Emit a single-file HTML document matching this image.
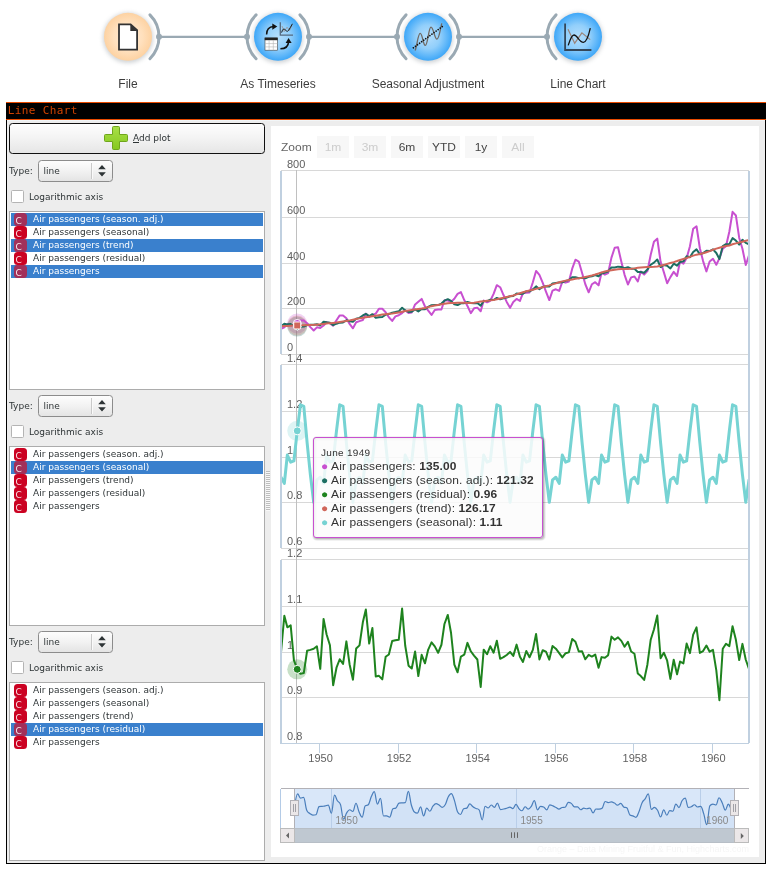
<!DOCTYPE html>
<html><head><meta charset="utf-8"><title>Line Chart</title>
<style>
html,body{margin:0;padding:0;background:#fff;}
body{width:774px;height:872px;position:relative;overflow:hidden;font-family:"DejaVu Sans","Liberation Sans",sans-serif;font-size:9px;color:#2e3436;}
#wf,#ch{position:absolute;left:0;top:0;}
#ch text{font-family:"Liberation Sans",sans-serif;}
#win{position:absolute;left:6px;top:102px;width:760px;height:762px;background:#000;}
#tt{position:absolute;left:0;top:0;width:760px;height:18px;background:#000;border-top:1px solid #e84a00;border-bottom:1px solid #e84a00;box-sizing:border-box;height:18px;}
#tt span{position:absolute;left:1.8px;top:1px;letter-spacing:0.38px;font-family:"DejaVu Sans Mono","Liberation Mono",monospace;font-size:11px;line-height:13px;color:#d04200;white-space:pre;}
#body{position:absolute;left:7px;top:120px;width:758px;height:743px;background:#ededed;}
#white{position:absolute;left:271px;top:126px;width:488px;height:731px;background:#fff;}
.btn{position:absolute;left:9px;top:123px;width:254px;height:29px;border:1px solid #111;border-radius:3.5px;background:linear-gradient(#fefefe,#f3f3f3 50%,#e6e6e6);}
.btn .t{position:absolute;left:123px;top:8px;line-height:12px;white-space:pre;}
.lbl{position:absolute;line-height:12px;white-space:pre;}
.combo{position:absolute;width:73px;height:20px;border:1px solid #8c8c8c;border-radius:3.5px;background:linear-gradient(#fdfdfd,#f2f2f2 50%,#e4e4e4);}
.combo .ct{position:absolute;left:4.5px;top:4px;line-height:12px;}
.combo .sep{position:absolute;left:52px;top:2px;width:1px;height:16px;background:#c9c9c9;border-right:1px solid #fafafa;}
.combo .arr{position:absolute;left:58px;top:4px;}
.cb{position:absolute;width:11px;height:11px;border:1px solid #b4b4b4;border-radius:1.5px;background:#fff;}
.list{position:absolute;width:254px;border:1px solid #acacac;background:#fff;box-sizing:content-box;}
.list .row{position:relative;margin:1px 1px 0 1px;height:13px;}
.list .row + .row{margin-top:0;}
.row .ic{position:absolute;left:3px;top:0;width:13px;height:13px;border-radius:3.5px;background:#cb0222;color:#fff;font-size:8px;line-height:13px;text-indent:0;overflow:hidden;}
.row .ic b{position:absolute;left:1.4px;top:3px;font-weight:normal;line-height:10px;font-size:9px;text-indent:0;color:rgba(255,255,255,0.88);}
.row .tx{position:absolute;left:22px;top:0px;line-height:12px;white-space:pre;}
.row.sel{background:#3a80cd;color:#fff;}
.row.sel .ic{background:#a2305a;color:#e8dce6;}
.split{position:absolute;left:266px;top:471px;width:4px;height:40px;background:repeating-linear-gradient(#bdbdbd 0,#bdbdbd 1px,#f8f8f8 1px,#f8f8f8 2px);}
#root{position:absolute;left:0;top:0;width:774px;height:872px;will-change:transform;}
</style></head><body><div id="root">
<svg id="wf" width="774" height="100" viewBox="0 0 774 100">
<defs>
<radialGradient id="gO" cx="50%" cy="50%" r="50%"><stop offset="0" stop-color="#ffebd6"/><stop offset="0.6" stop-color="#ffe0bd"/><stop offset="1" stop-color="#fdd2a2"/></radialGradient>
<radialGradient id="gB" cx="50%" cy="50%" r="50%"><stop offset="0" stop-color="#b4defc"/><stop offset="0.5" stop-color="#92cffb"/><stop offset="1" stop-color="#3ea7f8"/></radialGradient>
<filter id="sh" x="-20%" y="-20%" width="140%" height="140%"><feGaussianBlur stdDeviation="1.9"/></filter>
<filter id="tsh" x="-10%" y="-10%" width="120%" height="130%"><feGaussianBlur stdDeviation="1.2"/></filter>
<linearGradient id="gP" x1="0" y1="0" x2="0" y2="1"><stop offset="0" stop-color="#a8e048"/><stop offset="1" stop-color="#86c81e"/></linearGradient>
</defs>
<line x1="159.0" y1="36.8" x2="247.0" y2="36.8" stroke="#9aa9b3" stroke-width="2.2"/>
<line x1="309.0" y1="36.8" x2="397.0" y2="36.8" stroke="#9aa9b3" stroke-width="2.2"/>
<line x1="459.0" y1="36.8" x2="547.0" y2="36.8" stroke="#9aa9b3" stroke-width="2.2"/>
<circle cx="128" cy="37.8" r="25" fill="#808890" opacity="0.38" filter="url(#sh)"/>
<circle cx="128" cy="36.8" r="24" fill="url(#gO)"/>
<path d="M149.92 14.88 A31 31 0 0 1 149.92 58.72" fill="none" stroke="#9aa9b3" stroke-width="3" stroke-linecap="round"/>
<circle cx="159.0" cy="36.8" r="3" fill="#9aa9b3"/>
<text x="128" y="88" text-anchor="middle" font-family="Liberation Sans, sans-serif" font-size="12" fill="#3c3c3c">File</text>
<circle cx="278" cy="37.8" r="25" fill="#808890" opacity="0.38" filter="url(#sh)"/>
<circle cx="278" cy="36.8" r="24" fill="url(#gB)"/>
<path d="M256.08 14.88 A31 31 0 0 0 256.08 58.72" fill="none" stroke="#9aa9b3" stroke-width="3" stroke-linecap="round"/>
<circle cx="247.0" cy="36.8" r="3" fill="#9aa9b3"/>
<path d="M299.92 14.88 A31 31 0 0 1 299.92 58.72" fill="none" stroke="#9aa9b3" stroke-width="3" stroke-linecap="round"/>
<circle cx="309.0" cy="36.8" r="3" fill="#9aa9b3"/>
<text x="278" y="88" text-anchor="middle" font-family="Liberation Sans, sans-serif" font-size="12" fill="#3c3c3c">As Timeseries</text>
<circle cx="428" cy="37.8" r="25" fill="#808890" opacity="0.38" filter="url(#sh)"/>
<circle cx="428" cy="36.8" r="24" fill="url(#gB)"/>
<path d="M406.08 14.88 A31 31 0 0 0 406.08 58.72" fill="none" stroke="#9aa9b3" stroke-width="3" stroke-linecap="round"/>
<circle cx="397.0" cy="36.8" r="3" fill="#9aa9b3"/>
<path d="M449.92 14.88 A31 31 0 0 1 449.92 58.72" fill="none" stroke="#9aa9b3" stroke-width="3" stroke-linecap="round"/>
<circle cx="459.0" cy="36.8" r="3" fill="#9aa9b3"/>
<text x="428" y="88" text-anchor="middle" font-family="Liberation Sans, sans-serif" font-size="12" fill="#3c3c3c">Seasonal Adjustment</text>
<circle cx="578" cy="37.8" r="25" fill="#808890" opacity="0.38" filter="url(#sh)"/>
<circle cx="578" cy="36.8" r="24" fill="url(#gB)"/>
<path d="M556.08 14.88 A31 31 0 0 0 556.08 58.72" fill="none" stroke="#9aa9b3" stroke-width="3" stroke-linecap="round"/>
<circle cx="547.0" cy="36.8" r="3" fill="#9aa9b3"/>
<text x="578" y="88" text-anchor="middle" font-family="Liberation Sans, sans-serif" font-size="12" fill="#3c3c3c">Line Chart</text>
<path d="M119 24.3 H130.6 L137.1 30.2 V49.6 H119 Z" fill="#fff" stroke="#333" stroke-width="1.8" stroke-linejoin="miter"/>
<path d="M130.3 24 L137.4 30.9 H130.3 Z" fill="#333"/>
<g>
<rect x="265" y="38" width="12.4" height="12.2" fill="#fff" stroke="#444" stroke-width="0.6"/>
<rect x="264.7" y="37.6" width="13" height="2.6" fill="#222"/>
<path d="M265 43.6 H277.4 M265 46.9 H277.4 M269.1 40 V50.2 M273.3 40 V50.2" stroke="#b4b4b4" stroke-width="0.6" fill="none"/>
<path d="M266.6 34.6 C266.6 29.5 269.5 26.8 273.6 26.6" fill="none" stroke="#111" stroke-width="1.5"/>
<path d="M272.3 23.6 L277.3 26.6 L272.3 29.8 Z" fill="#111"/>
<path d="M280.3 22.2 V35.1 H293" fill="none" stroke="#546a80" stroke-width="1.3"/>
<path d="M282 26 L284.2 31.6 L287 27.2 L289.6 30.4 L292.2 24.6" fill="none" stroke="#9a8a84" stroke-width="0.7"/>
<path d="M281.6 32.6 C284 24 286 34 288.5 30.5 C290 28.5 291 26 292.4 23.8" fill="none" stroke="#1a1a1a" stroke-width="1"/>
<path d="M280.4 48.8 C285.5 48.8 288.4 46 288.6 41.6" fill="none" stroke="#111" stroke-width="1.5"/>
<path d="M285.6 43 L288.6 37.9 L291.6 43 Z" fill="#111"/>
</g>
<path d="M415.1 50.6 C417 46 418 33.4 420.2 33.4 C422.6 33.4 423 45.4 425.3 45.4 C427.8 45.4 428.6 27.2 431 27.2 C433.4 27.2 434.6 39.2 437 39.2 C439.2 39.2 440.4 28 441.8 23.4" fill="none" stroke="#6f6964" stroke-width="1.3"/>
<line x1="413.4" y1="47.8" x2="443.4" y2="25.7" stroke="#111" stroke-width="1.7" stroke-linecap="round" stroke-dasharray="0.01 2.55"/>
<path d="M565.1 23.6 V50 H591.4" fill="none" stroke="#34475a" stroke-width="1.8"/>
<path d="M568 29.3 L574.7 43.2 L581.9 32.9 L590.2 39.6" fill="none" stroke="#9a857c" stroke-width="1.2"/>
<path d="M568.2 45.4 C570.5 38 572 35 574 35 C577.5 35 579 42.4 583.4 42.4 C587 42.4 589 34 590.3 28.2" fill="none" stroke="#111" stroke-width="1.3"/>
</svg>
<div id="win"><div id="tt"><span>Line Chart</span></div></div>
<div id="body"></div><div style="position:absolute;left:7px;top:120px;width:758px;height:1px;background:#f2f6f8"></div>
<div id="white"></div>
<div class="btn"><svg style="position:absolute;left:94px;top:2px" width="24" height="24" viewBox="0 0 24 24"><path d="M9.5 0.5 H14.5 a1 1 0 0 1 1 1 V8.5 H22.5 a1 1 0 0 1 1 1 V14.5 a1 1 0 0 1 -1 1 H15.5 V22.5 a1 1 0 0 1 -1 1 H9.5 a1 1 0 0 1 -1 -1 V15.5 H1.5 a1 1 0 0 1 -1 -1 V9.5 a1 1 0 0 1 1 -1 H8.5 V1.5 a1 1 0 0 1 1 -1 Z" fill="url(#gP)" stroke="#6fa51c" stroke-width="1"/></svg><span class="t"><u>A</u>dd plot</span></div>
<div class="lbl" style="left:9px;top:165px">Type:</div>
<div class="combo" style="left:38px;top:160px"><span class="ct">line</span><span class="sep"></span><svg class="arr" width="10" height="12" viewBox="0 0 10 12"><path d="M1.2 4.3 L5 0 L8.8 4.3 Z M1.2 7.3 L5 11.6 L8.8 7.3 Z" fill="#2e3436"/></svg></div>
<div class="cb" style="left:11px;top:190px"></div>
<div class="lbl" style="left:29px;top:191px">Logarithmic axis</div>
<div class="list" style="left:9px;top:211px;height:177px">
<div class="row sel"><span class="ic"><b>C</b></span><span class="tx">Air passengers (season. adj.)</span></div>
<div class="row"><span class="ic"><b>C</b></span><span class="tx">Air passengers (seasonal)</span></div>
<div class="row sel"><span class="ic"><b>C</b></span><span class="tx">Air passengers (trend)</span></div>
<div class="row"><span class="ic"><b>C</b></span><span class="tx">Air passengers (residual)</span></div>
<div class="row sel"><span class="ic"><b>C</b></span><span class="tx">Air passengers</span></div>
</div>
<div class="lbl" style="left:9px;top:400px">Type:</div>
<div class="combo" style="left:38px;top:395px"><span class="ct">line</span><span class="sep"></span><svg class="arr" width="10" height="12" viewBox="0 0 10 12"><path d="M1.2 4.3 L5 0 L8.8 4.3 Z M1.2 7.3 L5 11.6 L8.8 7.3 Z" fill="#2e3436"/></svg></div>
<div class="cb" style="left:11px;top:425px"></div>
<div class="lbl" style="left:29px;top:426px">Logarithmic axis</div>
<div class="list" style="left:9px;top:446px;height:178px">
<div class="row"><span class="ic"><b>C</b></span><span class="tx">Air passengers (season. adj.)</span></div>
<div class="row sel"><span class="ic"><b>C</b></span><span class="tx">Air passengers (seasonal)</span></div>
<div class="row"><span class="ic"><b>C</b></span><span class="tx">Air passengers (trend)</span></div>
<div class="row"><span class="ic"><b>C</b></span><span class="tx">Air passengers (residual)</span></div>
<div class="row"><span class="ic"><b>C</b></span><span class="tx">Air passengers</span></div>
</div>
<div class="lbl" style="left:9px;top:636px">Type:</div>
<div class="combo" style="left:38px;top:631px"><span class="ct">line</span><span class="sep"></span><svg class="arr" width="10" height="12" viewBox="0 0 10 12"><path d="M1.2 4.3 L5 0 L8.8 4.3 Z M1.2 7.3 L5 11.6 L8.8 7.3 Z" fill="#2e3436"/></svg></div>
<div class="cb" style="left:11px;top:661px"></div>
<div class="lbl" style="left:29px;top:662px">Logarithmic axis</div>
<div class="list" style="left:9px;top:682px;height:177px">
<div class="row"><span class="ic"><b>C</b></span><span class="tx">Air passengers (season. adj.)</span></div>
<div class="row"><span class="ic"><b>C</b></span><span class="tx">Air passengers (seasonal)</span></div>
<div class="row"><span class="ic"><b>C</b></span><span class="tx">Air passengers (trend)</span></div>
<div class="row sel"><span class="ic"><b>C</b></span><span class="tx">Air passengers (residual)</span></div>
<div class="row"><span class="ic"><b>C</b></span><span class="tx">Air passengers</span></div>
</div>
<div class="split"></div>
<svg id="ch" width="774" height="872" viewBox="0 0 774 872">
<line x1="281" x2="749" y1="170.5" y2="170.5" stroke="#d8d8d8" stroke-width="1"/>
<line x1="281" x2="749" y1="217.5" y2="217.5" stroke="#d8d8d8" stroke-width="1"/>
<line x1="281" x2="749" y1="263.5" y2="263.5" stroke="#d8d8d8" stroke-width="1"/>
<line x1="281" x2="749" y1="308.5" y2="308.5" stroke="#d8d8d8" stroke-width="1"/>
<line x1="281" x2="749" y1="354.5" y2="354.5" stroke="#d8d8d8" stroke-width="1"/>
<line x1="281" x2="749" y1="364.5" y2="364.5" stroke="#d8d8d8" stroke-width="1"/>
<line x1="281" x2="749" y1="411.5" y2="411.5" stroke="#d8d8d8" stroke-width="1"/>
<line x1="281" x2="749" y1="457.5" y2="457.5" stroke="#d8d8d8" stroke-width="1"/>
<line x1="281" x2="749" y1="502.5" y2="502.5" stroke="#d8d8d8" stroke-width="1"/>
<line x1="281" x2="749" y1="548.5" y2="548.5" stroke="#d8d8d8" stroke-width="1"/>
<line x1="281" x2="749" y1="559.5" y2="559.5" stroke="#d8d8d8" stroke-width="1"/>
<line x1="281" x2="749" y1="606.5" y2="606.5" stroke="#d8d8d8" stroke-width="1"/>
<line x1="281" x2="749" y1="652.5" y2="652.5" stroke="#d8d8d8" stroke-width="1"/>
<line x1="281" x2="749" y1="697.5" y2="697.5" stroke="#d8d8d8" stroke-width="1"/>
<line x1="296.5" x2="296.5" y1="170" y2="743" stroke="#c0c0c0" stroke-width="1"/>
<text x="287" y="168.0" font-size="11" fill="#606060">800</text>
<text x="287" y="214.0" font-size="11" fill="#606060">600</text>
<text x="287" y="260.0" font-size="11" fill="#606060">400</text>
<text x="287" y="305.0" font-size="11" fill="#606060">200</text>
<text x="287" y="351.0" font-size="11" fill="#606060">0</text>
<text x="287" y="362.0" font-size="11" fill="#606060">1.4</text>
<text x="287" y="408.0" font-size="11" fill="#606060">1.2</text>
<text x="287" y="454.0" font-size="11" fill="#606060">1</text>
<text x="287" y="499.0" font-size="11" fill="#606060">0.8</text>
<text x="287" y="545.0" font-size="11" fill="#606060">0.6</text>
<text x="287" y="557.0" font-size="11" fill="#606060">1.2</text>
<text x="287" y="603.0" font-size="11" fill="#606060">1.1</text>
<text x="287" y="649.0" font-size="11" fill="#606060">1</text>
<text x="287" y="694.0" font-size="11" fill="#606060">0.9</text>
<text x="287" y="740.0" font-size="11" fill="#606060">0.8</text>
<text x="320.6" y="762" text-anchor="middle" font-size="11" fill="#606060">1950</text>
<line x1="319.5" x2="319.5" y1="744" y2="753" stroke="#c0d0e0" stroke-width="1"/>
<text x="399.1" y="762" text-anchor="middle" font-size="11" fill="#606060">1952</text>
<line x1="398.5" x2="398.5" y1="744" y2="753" stroke="#c0d0e0" stroke-width="1"/>
<text x="477.7" y="762" text-anchor="middle" font-size="11" fill="#606060">1954</text>
<line x1="476.5" x2="476.5" y1="744" y2="753" stroke="#c0d0e0" stroke-width="1"/>
<text x="556.2" y="762" text-anchor="middle" font-size="11" fill="#606060">1956</text>
<line x1="555.5" x2="555.5" y1="744" y2="753" stroke="#c0d0e0" stroke-width="1"/>
<text x="634.8" y="762" text-anchor="middle" font-size="11" fill="#606060">1958</text>
<line x1="633.5" x2="633.5" y1="744" y2="753" stroke="#c0d0e0" stroke-width="1"/>
<text x="713.3" y="762" text-anchor="middle" font-size="11" fill="#606060">1960</text>
<line x1="712.5" x2="712.5" y1="744" y2="753" stroke="#c0d0e0" stroke-width="1"/>
<circle cx="297.24" cy="323.45" r="10" fill="#c850d0" fill-opacity="0.25"/>
<circle cx="297.24" cy="326.59" r="10" fill="#1d6e62" fill-opacity="0.25"/>
<circle cx="297.24" cy="325.48" r="10" fill="#d0665a" fill-opacity="0.25"/>
<circle cx="297.24" cy="430.85" r="10" fill="#76d3d3" fill-opacity="0.25"/>
<circle cx="297.24" cy="669.32" r="10" fill="#1e831e" fill-opacity="0.25"/>
<path d="M281.00 328.72 L284.33 327.35 L287.34 324.14 L290.68 324.83 L293.90 326.66 L297.24 323.45 L300.46 320.47 L303.80 320.47 L307.13 323.22 L310.36 327.12 L313.69 330.56 L316.92 327.35 L320.25 328.04 L323.58 325.51 L326.60 322.08 L329.93 323.45 L333.16 325.74 L336.49 320.24 L339.72 315.43 L343.05 315.43 L346.38 318.18 L349.61 323.91 L352.94 328.27 L356.17 322.30 L359.50 321.16 L362.84 320.01 L365.85 313.59 L369.18 317.03 L372.41 314.97 L375.74 313.59 L378.97 308.78 L382.30 308.78 L385.63 312.22 L388.86 317.26 L392.19 320.93 L395.42 316.34 L398.75 315.20 L402.09 313.13 L405.20 310.15 L408.54 312.91 L411.76 312.45 L415.10 304.42 L418.32 301.67 L421.66 298.92 L424.99 306.49 L428.22 310.61 L431.55 314.97 L434.78 309.93 L438.11 309.47 L441.44 309.47 L444.46 300.30 L447.79 300.53 L451.02 301.90 L454.35 298.69 L457.58 293.88 L460.91 292.04 L464.24 300.07 L467.47 306.03 L470.80 313.13 L474.03 308.32 L477.36 307.63 L480.70 311.30 L483.71 300.53 L487.04 302.36 L490.27 300.76 L493.60 293.88 L496.83 285.17 L500.16 287.23 L503.49 295.02 L506.72 301.90 L510.05 307.86 L513.28 301.90 L516.61 298.92 L519.95 300.98 L522.96 293.19 L526.29 292.73 L529.52 292.50 L532.85 282.19 L536.08 270.95 L539.41 274.85 L542.74 282.87 L545.97 291.59 L549.30 300.07 L552.53 290.67 L555.86 289.29 L559.20 290.90 L562.32 281.73 L565.65 282.64 L568.88 281.50 L572.21 268.66 L575.44 259.72 L578.77 261.55 L582.10 273.02 L585.33 284.25 L588.66 292.27 L591.89 284.25 L595.22 282.19 L598.56 285.40 L601.57 272.79 L604.90 274.62 L608.13 273.02 L611.46 257.66 L614.69 247.80 L618.02 247.34 L621.35 261.78 L624.58 274.85 L627.91 284.48 L631.14 277.37 L634.47 276.45 L637.81 281.50 L640.82 271.41 L644.15 274.62 L647.38 271.18 L650.71 254.68 L653.94 241.84 L657.27 238.63 L660.60 261.78 L663.83 272.10 L667.16 283.33 L670.39 277.14 L673.72 271.87 L677.06 276.00 L680.07 261.32 L683.40 263.62 L686.63 258.11 L689.96 246.19 L693.19 228.77 L696.52 226.25 L699.86 248.26 L703.08 261.10 L706.42 271.41 L709.64 261.55 L712.98 258.80 L716.31 264.76 L719.43 258.34 L722.76 248.72 L725.99 246.19 L729.32 231.75 L732.55 211.81 L735.88 215.47 L739.21 237.94 L742.44 248.72 L745.77 264.99 L749.00 255.36" stroke="#c850d0" fill="none" stroke-width="2" stroke-linejoin="round" stroke-linecap="round"/>
<path d="M281.00 326.19 L284.33 323.79 L287.34 324.36 L290.68 324.10 L293.90 326.13 L297.24 326.59 L300.46 326.74 L303.80 326.59 L307.13 325.00 L310.36 324.80 L313.69 324.64 L316.92 324.30 L320.25 325.44 L323.58 321.71 L326.60 322.31 L329.93 322.69 L333.16 325.20 L336.49 323.70 L339.72 322.63 L343.05 322.45 L346.38 320.24 L349.61 321.32 L352.94 321.78 L356.17 318.69 L359.50 317.88 L362.84 315.48 L365.85 313.89 L369.18 316.11 L372.41 314.22 L375.74 317.73 L378.97 317.21 L382.30 317.00 L385.63 314.62 L388.86 314.11 L392.19 312.62 L395.42 312.06 L398.75 311.33 L402.09 307.70 L405.20 310.48 L408.54 311.88 L411.76 311.65 L415.10 309.49 L418.32 311.41 L421.66 308.92 L424.99 309.22 L428.22 306.90 L431.55 305.18 L434.78 304.92 L438.11 305.04 L441.44 303.55 L444.46 300.69 L447.79 299.20 L451.02 300.91 L454.35 304.34 L457.58 305.06 L460.91 303.28 L464.24 303.17 L467.47 301.92 L470.80 302.89 L474.03 303.13 L477.36 303.02 L480.70 305.62 L483.71 300.92 L487.04 301.08 L490.27 299.74 L493.60 300.01 L496.83 297.95 L500.16 299.34 L503.49 298.41 L506.72 297.45 L510.05 296.31 L513.28 295.99 L516.61 293.45 L519.95 293.95 L522.96 293.64 L526.29 291.21 L529.52 291.33 L532.85 289.50 L536.08 286.37 L539.41 289.19 L542.74 286.95 L545.97 286.25 L549.30 286.58 L552.53 283.49 L555.86 282.87 L559.20 282.53 L562.32 282.26 L565.65 280.87 L568.88 280.12 L572.21 277.35 L575.44 277.21 L578.77 278.29 L582.10 277.66 L585.33 278.29 L588.66 276.86 L591.89 276.35 L595.22 275.06 L598.56 276.31 L601.57 273.38 L604.90 272.65 L608.13 271.47 L611.46 267.46 L614.69 267.49 L618.02 266.64 L621.35 267.07 L624.58 268.10 L627.91 267.13 L631.14 268.70 L634.47 268.77 L637.81 271.90 L640.82 272.02 L644.15 272.65 L647.38 269.60 L650.71 264.78 L653.94 262.63 L657.27 259.50 L660.60 267.07 L663.83 265.11 L667.16 265.70 L670.39 268.45 L673.72 263.73 L677.06 265.67 L680.07 262.01 L683.40 261.38 L686.63 256.29 L689.96 257.16 L693.19 251.98 L696.52 249.35 L699.86 254.31 L703.08 253.18 L706.42 250.82 L709.64 251.10 L712.98 249.37 L716.31 252.96 L719.43 259.05 L722.76 246.11 L725.99 244.14 L729.32 244.18 L732.55 238.14 L735.88 240.52 L739.21 244.58 L742.44 239.74 L745.77 242.80 L749.00 244.22" stroke="#1d6e62" fill="none" stroke-width="2" stroke-linejoin="round" stroke-linecap="round"/>
<path d="M281.00 326.14 L284.33 326.01 L287.34 325.88 L290.68 325.74 L293.90 325.61 L297.24 325.48 L300.46 325.33 L303.80 325.23 L307.13 325.07 L310.36 324.92 L313.69 324.83 L316.92 324.65 L320.25 324.31 L323.58 323.89 L326.60 323.47 L329.93 323.13 L333.16 322.90 L336.49 322.59 L339.72 322.09 L343.05 321.58 L346.38 321.00 L349.61 320.38 L352.94 319.66 L356.17 318.93 L359.50 318.38 L362.84 317.83 L365.85 317.30 L369.18 316.77 L372.41 316.19 L375.74 315.64 L378.97 315.14 L382.30 314.61 L385.63 314.18 L388.86 313.86 L392.19 313.58 L395.42 313.10 L398.75 312.42 L402.09 311.71 L405.20 311.06 L408.54 310.55 L411.76 310.02 L415.10 309.51 L418.32 309.00 L421.66 308.61 L424.99 308.04 L428.22 307.12 L431.55 306.16 L434.78 305.48 L438.11 304.92 L441.44 304.31 L444.46 303.75 L447.79 303.30 L451.02 303.03 L454.35 302.89 L457.58 302.74 L460.91 302.74 L464.24 302.83 L467.47 302.91 L470.80 302.94 L474.03 302.69 L477.36 302.13 L480.70 301.57 L483.71 301.16 L487.04 300.77 L490.27 300.38 L493.60 299.90 L496.83 299.27 L500.16 298.47 L503.49 297.74 L506.72 297.03 L510.05 296.29 L513.28 295.45 L516.61 294.37 L519.95 293.27 L522.96 292.24 L526.29 291.31 L529.52 290.55 L532.85 289.76 L536.08 288.89 L539.41 288.07 L542.74 287.17 L545.97 286.27 L549.30 285.40 L552.53 284.37 L555.86 283.34 L559.20 282.32 L562.32 281.36 L565.65 280.64 L568.88 280.01 L572.21 279.42 L575.44 278.85 L578.77 278.33 L582.10 277.73 L585.33 277.02 L588.66 276.33 L591.89 275.52 L595.22 274.56 L598.56 273.47 L601.57 272.41 L604.90 271.55 L608.13 270.84 L611.46 270.23 L614.69 269.70 L618.02 269.30 L621.35 269.08 L624.58 269.02 L627.91 268.95 L631.14 268.75 L634.47 268.37 L637.81 267.76 L640.82 267.40 L644.15 267.28 L647.38 267.12 L650.71 267.07 L653.94 266.86 L657.27 266.44 L660.60 265.79 L663.83 264.92 L667.16 263.91 L670.39 263.02 L673.72 262.12 L677.06 261.06 L680.07 259.98 L683.40 258.96 L686.63 258.00 L689.96 256.85 L693.19 255.66 L696.52 254.65 L699.86 254.06 L703.08 253.31 L706.42 252.19 L709.64 251.09 L712.98 249.79 L716.31 248.63 L719.43 247.75 L722.76 246.81 L725.99 246.02 L729.32 245.50 L732.55 244.27 L735.88 243.40 L739.21 242.54 L742.44 241.67 L745.77 240.81 L749.00 239.94" stroke="#d0665a" fill="none" stroke-width="2" stroke-linejoin="round" stroke-linecap="round"/>
<path d="M281.00 477.28 L284.33 483.38 L287.34 455.01 L290.68 462.22 L293.90 460.97 L297.24 430.85 L300.46 404.76 L303.80 406.29 L307.13 442.83 L310.36 474.64 L313.69 502.28 L316.92 479.89 L320.25 477.28 L323.58 483.38 L326.60 455.01 L329.93 462.22 L333.16 460.97 L336.49 430.85 L339.72 404.76 L343.05 406.29 L346.38 442.83 L349.61 474.64 L352.94 502.28 L356.17 479.89 L359.50 477.28 L362.84 483.38 L365.85 455.01 L369.18 462.22 L372.41 460.97 L375.74 430.85 L378.97 404.76 L382.30 406.29 L385.63 442.83 L388.86 474.64 L392.19 502.28 L395.42 479.89 L398.75 477.28 L402.09 483.38 L405.20 455.01 L408.54 462.22 L411.76 460.97 L415.10 430.85 L418.32 404.76 L421.66 406.29 L424.99 442.83 L428.22 474.64 L431.55 502.28 L434.78 479.89 L438.11 477.28 L441.44 483.38 L444.46 455.01 L447.79 462.22 L451.02 460.97 L454.35 430.85 L457.58 404.76 L460.91 406.29 L464.24 442.83 L467.47 474.64 L470.80 502.28 L474.03 479.89 L477.36 477.28 L480.70 483.38 L483.71 455.01 L487.04 462.22 L490.27 460.97 L493.60 430.85 L496.83 404.76 L500.16 406.29 L503.49 442.83 L506.72 474.64 L510.05 502.28 L513.28 479.89 L516.61 477.28 L519.95 483.38 L522.96 455.01 L526.29 462.22 L529.52 460.97 L532.85 430.85 L536.08 404.76 L539.41 406.29 L542.74 442.83 L545.97 474.64 L549.30 502.28 L552.53 479.89 L555.86 477.28 L559.20 483.38 L562.32 455.01 L565.65 462.22 L568.88 460.97 L572.21 430.85 L575.44 404.76 L578.77 406.29 L582.10 442.83 L585.33 474.64 L588.66 502.28 L591.89 479.89 L595.22 477.28 L598.56 483.38 L601.57 455.01 L604.90 462.22 L608.13 460.97 L611.46 430.85 L614.69 404.76 L618.02 406.29 L621.35 442.83 L624.58 474.64 L627.91 502.28 L631.14 479.89 L634.47 477.28 L637.81 483.38 L640.82 455.01 L644.15 462.22 L647.38 460.97 L650.71 430.85 L653.94 404.76 L657.27 406.29 L660.60 442.83 L663.83 474.64 L667.16 502.28 L670.39 479.89 L673.72 477.28 L677.06 483.38 L680.07 455.01 L683.40 462.22 L686.63 460.97 L689.96 430.85 L693.19 404.76 L696.52 406.29 L699.86 442.83 L703.08 474.64 L706.42 502.28 L709.64 479.89 L712.98 477.28 L716.31 483.38 L719.43 455.01 L722.76 462.22 L725.99 460.97 L729.32 430.85 L732.55 404.76 L735.88 406.29 L739.21 442.83 L742.44 474.64 L745.77 502.28 L749.00 479.89" stroke="#76d3d3" fill="none" stroke-width="3" stroke-linejoin="round" stroke-linecap="round"/>
<path d="M281.00 652.46 L284.33 615.76 L287.34 627.31 L290.68 625.35 L293.90 660.05 L297.24 669.32 L300.46 673.86 L303.80 673.07 L307.13 650.68 L310.36 649.85 L313.69 648.83 L316.92 646.28 L320.25 668.85 L323.58 618.93 L326.60 634.53 L329.93 645.26 L333.16 685.21 L336.49 667.73 L339.72 659.24 L343.05 663.91 L346.38 641.38 L349.61 664.45 L352.94 679.69 L356.17 648.59 L359.50 645.35 L362.84 622.35 L365.85 609.58 L369.18 643.60 L372.41 628.05 L375.74 676.44 L378.97 675.82 L382.30 679.32 L385.63 656.81 L388.86 654.51 L392.19 640.91 L395.42 640.20 L398.75 639.83 L402.09 608.61 L405.20 645.52 L408.54 665.66 L411.76 668.54 L415.10 651.53 L418.32 676.07 L421.66 654.86 L424.99 663.33 L428.22 649.56 L431.55 642.40 L434.78 646.41 L438.11 652.77 L441.44 644.75 L444.46 623.98 L447.79 614.91 L451.02 632.75 L454.35 664.63 L457.58 672.24 L460.91 656.51 L464.24 654.71 L467.47 642.87 L470.80 651.27 L474.03 655.60 L477.36 659.50 L480.70 686.91 L483.71 649.66 L487.04 654.27 L490.27 646.22 L493.60 652.67 L496.83 640.80 L500.16 658.80 L503.49 657.15 L506.72 655.02 L510.05 651.92 L513.28 655.89 L516.61 644.64 L519.95 656.82 L522.96 661.98 L526.29 650.98 L529.52 657.26 L532.85 649.88 L536.08 634.02 L539.41 659.44 L542.74 650.21 L545.97 651.56 L549.30 659.60 L552.53 645.94 L555.86 648.67 L559.20 653.06 L562.32 657.37 L565.65 653.16 L568.88 652.36 L572.21 639.07 L575.44 641.72 L578.77 651.48 L582.10 651.30 L585.33 659.26 L588.66 654.78 L591.89 656.55 L595.22 654.58 L598.56 667.75 L601.57 657.12 L604.90 657.77 L608.13 655.18 L611.46 636.63 L614.69 639.72 L618.02 637.36 L621.35 640.87 L624.58 646.73 L627.91 641.93 L631.14 651.46 L634.47 653.80 L637.81 673.58 L640.82 676.04 L644.15 679.94 L647.38 664.73 L650.71 639.72 L653.94 629.52 L657.27 615.49 L660.60 658.28 L663.83 652.71 L667.16 660.74 L670.39 678.95 L673.72 659.72 L677.06 674.36 L680.07 661.54 L683.40 663.33 L686.63 643.56 L689.96 653.14 L693.19 634.59 L696.52 627.35 L699.86 652.87 L703.08 651.09 L706.42 645.53 L709.64 651.74 L712.98 649.90 L716.31 670.46 L719.43 700.26 L722.76 648.72 L725.99 643.74 L729.32 646.16 L732.55 626.22 L735.88 639.79 L739.21 660.09 L742.44 643.86 L745.77 659.76 L749.00 668.81" stroke="#1e831e" fill="none" stroke-width="2" stroke-linejoin="round" stroke-linecap="round"/>
<rect x="276" y="171" width="4" height="573" fill="#fff"/>
<rect x="750" y="171" width="4" height="573" fill="#fff"/>
<line x1="281" x2="281" y1="171" y2="354" stroke="#c0d0e0" stroke-width="2"/>
<line x1="281" x2="281" y1="365" y2="548" stroke="#c0d0e0" stroke-width="2"/>
<line x1="281" x2="281" y1="560" y2="743" stroke="#c0d0e0" stroke-width="2"/>
<line x1="749" x2="749" y1="171" y2="743" stroke="#c0d0e0" stroke-width="2"/>
<line x1="280" x2="749" y1="743.5" y2="743.5" stroke="#c0d0e0" stroke-width="1"/>
<circle cx="297.24" cy="323.45" r="4" fill="#c850d0" stroke="#fff" stroke-width="1"/>
<path d="M297.24 322.59 l4 4 l-4 4 l-4 -4 Z" fill="#1d6e62" stroke="#fff" stroke-width="1"/>
<rect x="293.74" y="321.98" width="7" height="7" rx="1" fill="#d0665a" stroke="#fff" stroke-width="1"/>
<circle cx="297.24" cy="430.85" r="4" fill="#76d3d3" stroke="#fff" stroke-width="1"/>
<circle cx="297.24" cy="669.32" r="4" fill="#1e831e" stroke="#fff" stroke-width="1"/>
<text transform="translate(281 151) scale(1 0.93)" font-size="12" fill="#666">Zoom</text>
<rect x="317" y="136" width="32" height="22" fill="#f7f7f7"/>
<text transform="translate(333 150.5) scale(1 0.93)" text-anchor="middle" font-size="12" fill="#ccc">1m</text>
<rect x="354" y="136" width="32" height="22" fill="#f7f7f7"/>
<text transform="translate(370 150.5) scale(1 0.93)" text-anchor="middle" font-size="12" fill="#ccc">3m</text>
<rect x="391" y="136" width="32" height="22" fill="#f7f7f7"/>
<text transform="translate(407 150.5) scale(1 0.93)" text-anchor="middle" font-size="12" fill="#444">6m</text>
<rect x="428" y="136" width="32" height="22" fill="#f7f7f7"/>
<text transform="translate(444 150.5) scale(1 0.93)" text-anchor="middle" font-size="12" fill="#444">YTD</text>
<rect x="465" y="136" width="32" height="22" fill="#f7f7f7"/>
<text transform="translate(481 150.5) scale(1 0.93)" text-anchor="middle" font-size="12" fill="#444">1y</text>
<rect x="502" y="136" width="32" height="22" fill="#f7f7f7"/>
<text transform="translate(518 150.5) scale(1 0.93)" text-anchor="middle" font-size="12" fill="#ccc">All</text>
<path d="M294.50 807.28 C294.50 807.28 296.38 793.93 297.63 793.93 C298.77 793.93 299.33 798.13 300.47 798.13 C301.72 798.13 302.35 797.42 303.60 797.42 C304.81 797.42 305.42 806.90 306.63 810.04 C307.89 813.29 308.51 812.39 309.77 813.41 C310.98 814.40 311.59 815.06 312.80 815.06 C314.05 815.06 314.68 815.06 315.93 814.77 C317.19 814.49 317.81 806.94 319.07 806.63 C320.28 806.33 320.89 806.47 322.10 806.33 C323.35 806.20 323.98 806.22 325.24 805.96 C326.45 805.70 327.06 805.03 328.27 805.03 C329.52 805.03 330.15 813.24 331.40 813.24 C332.66 813.24 333.28 795.09 334.54 795.09 C335.67 795.09 336.24 798.94 337.37 800.76 C338.62 802.77 339.25 800.91 340.50 804.66 C341.72 808.29 342.32 819.19 343.53 819.19 C344.79 819.19 345.42 814.75 346.67 812.83 C347.88 810.98 348.49 809.75 349.70 809.75 C350.96 809.75 351.58 811.44 352.84 811.44 C354.09 811.44 354.72 803.25 355.97 803.25 C357.18 803.25 357.79 808.90 359.00 811.64 C360.26 814.47 360.88 817.18 362.14 817.18 C363.35 817.18 363.96 807.05 365.17 805.87 C366.42 804.70 367.05 805.87 368.31 804.70 C369.56 803.52 370.19 799.06 371.44 796.33 C372.57 793.86 373.14 791.69 374.27 791.69 C375.52 791.69 376.15 804.06 377.40 804.06 C378.62 804.06 379.22 798.40 380.44 798.40 C381.69 798.40 382.32 816.00 383.57 816.00 C384.78 816.00 385.39 815.78 386.60 815.78 C387.86 815.78 388.49 817.05 389.74 817.05 C390.99 817.05 391.62 809.70 392.87 808.86 C394.09 808.02 394.69 808.86 395.91 808.02 C397.16 807.19 397.79 803.34 399.04 803.08 C400.25 802.82 400.86 802.90 402.07 802.82 C403.33 802.74 403.95 802.82 405.21 802.69 C406.46 802.55 407.09 791.33 408.34 791.33 C409.51 791.33 410.10 800.75 411.27 804.76 C412.53 809.04 413.15 811.03 414.41 812.08 C415.62 813.13 416.23 813.13 417.44 813.13 C418.69 813.13 419.32 806.94 420.58 806.94 C421.79 806.94 422.40 815.87 423.61 815.87 C424.86 815.87 425.49 808.15 426.74 808.15 C428.00 808.15 428.62 811.23 429.88 811.23 C431.09 811.23 431.70 807.72 432.91 806.23 C434.16 804.68 434.79 803.62 436.04 803.62 C437.26 803.62 437.86 804.34 439.08 805.08 C440.33 805.85 440.96 807.39 442.21 807.39 C443.47 807.39 444.09 806.68 445.35 804.48 C446.48 802.49 447.04 798.98 448.18 796.92 C449.43 794.64 450.06 793.62 451.31 793.62 C452.52 793.62 453.13 796.55 454.34 800.11 C455.60 803.79 456.22 808.94 457.48 811.71 C458.69 814.48 459.30 814.48 460.51 814.48 C461.76 814.48 462.39 809.41 463.65 808.76 C464.90 808.10 465.53 808.76 466.78 808.10 C467.99 807.44 468.60 803.79 469.81 803.79 C471.07 803.79 471.69 805.91 472.95 806.85 C474.16 807.76 474.77 807.83 475.98 808.42 C477.23 809.03 477.86 808.42 479.11 809.84 C480.37 811.26 480.99 819.81 482.25 819.81 C483.38 819.81 483.95 806.26 485.08 806.26 C486.33 806.26 486.96 807.94 488.21 807.94 C489.43 807.94 490.03 805.01 491.25 805.01 C492.50 805.01 493.13 807.36 494.38 807.36 C495.59 807.36 496.20 803.04 497.41 803.04 C498.67 803.04 499.29 809.59 500.55 809.59 C501.80 809.59 502.43 809.27 503.68 808.99 C504.90 808.72 505.50 808.59 506.72 808.21 C507.97 807.82 508.60 807.09 509.85 807.09 C511.06 807.09 511.67 808.53 512.88 808.53 C514.14 808.53 514.76 804.44 516.02 804.44 C517.27 804.44 517.90 807.54 519.15 808.87 C520.28 810.07 520.85 810.74 521.98 810.74 C523.24 810.74 523.86 806.74 525.12 806.74 C526.33 806.74 526.94 809.03 528.15 809.03 C529.40 809.03 530.03 808.06 531.28 806.34 C532.50 804.68 533.10 800.58 534.32 800.58 C535.57 800.58 536.20 809.82 537.45 809.82 C538.70 809.82 539.33 806.46 540.58 806.46 C541.80 806.46 542.40 806.46 543.62 806.95 C544.87 807.44 545.50 809.88 546.75 809.88 C547.97 809.88 548.57 804.91 549.78 804.91 C551.04 804.91 551.67 805.38 552.92 805.90 C554.17 806.42 554.80 806.85 556.05 807.50 C557.23 808.11 557.81 809.07 558.99 809.07 C560.24 809.07 560.87 807.82 562.12 807.53 C563.33 807.24 563.94 807.53 565.15 807.24 C566.41 806.95 567.03 802.41 568.29 802.41 C569.50 802.41 570.11 802.49 571.32 803.37 C572.57 804.29 573.20 806.92 574.45 806.92 C575.71 806.92 576.33 806.86 577.59 806.86 C578.80 806.86 579.41 809.75 580.62 809.75 C581.88 809.75 582.50 808.13 583.76 808.13 C584.97 808.13 585.58 808.77 586.79 808.77 C588.04 808.77 588.67 808.05 589.92 808.05 C591.18 808.05 591.80 812.84 593.06 812.84 C594.19 812.84 594.76 808.98 595.89 808.98 C597.14 808.98 597.77 809.21 599.02 809.21 C600.24 809.21 600.84 809.21 602.06 808.27 C603.31 807.33 603.94 801.52 605.19 801.52 C606.40 801.52 607.01 802.65 608.22 802.65 C609.48 802.65 610.10 801.79 611.36 801.79 C612.61 801.79 613.24 802.37 614.49 803.07 C615.70 803.74 616.31 805.20 617.52 805.20 C618.78 805.20 619.40 803.45 620.66 803.45 C621.87 803.45 622.48 806.06 623.69 806.92 C624.94 807.77 625.57 806.92 626.83 807.77 C628.08 808.62 628.71 814.07 629.96 814.96 C631.09 815.86 631.66 815.42 632.79 815.86 C634.04 816.34 634.67 817.28 635.92 817.28 C637.14 817.28 637.74 814.62 638.96 811.74 C640.21 808.77 640.84 805.25 642.09 802.65 C643.31 800.13 643.91 800.67 645.12 798.94 C646.38 797.14 647.01 793.83 648.26 793.83 C649.51 793.83 650.14 809.40 651.39 809.40 C652.61 809.40 653.21 807.37 654.43 807.37 C655.68 807.37 656.31 808.35 657.56 810.29 C658.77 812.17 659.38 816.91 660.59 816.91 C661.85 816.91 662.47 809.92 663.73 809.92 C664.98 809.92 665.61 815.25 666.86 815.25 C667.99 815.25 668.56 810.58 669.69 810.58 C670.95 810.58 671.57 811.23 672.83 811.23 C674.04 811.23 674.65 804.04 675.86 804.04 C677.11 804.04 677.74 807.53 678.99 807.53 C680.21 807.53 680.81 802.63 682.03 800.78 C683.28 798.88 683.91 798.15 685.16 798.15 C686.42 798.15 687.04 807.43 688.30 807.43 C689.51 807.43 690.12 807.31 691.33 806.78 C692.58 806.24 693.21 804.76 694.46 804.76 C695.68 804.76 696.28 807.02 697.50 807.02 C698.75 807.02 699.38 806.35 700.63 806.35 C701.88 806.35 702.51 810.04 703.76 813.83 C704.94 817.37 705.52 824.67 706.70 824.67 C707.95 824.67 708.58 807.73 709.83 805.92 C711.04 804.11 711.65 804.11 712.86 804.11 C714.12 804.11 714.74 804.99 716.00 804.99 C717.21 804.99 717.82 797.74 719.03 797.74 C720.28 797.74 720.91 800.21 722.17 802.67 C723.42 805.14 724.05 810.06 725.30 810.06 C726.51 810.06 727.12 804.15 728.33 804.15 C729.59 804.15 730.21 808.09 731.47 809.94 C732.68 811.72 734.50 813.23 734.50 813.23 L734.50 828 L294.50 828 Z" fill="#4572a7" fill-opacity="0.05" stroke="none"/>
<line x1="331.5" x2="331.5" y1="789" y2="828" stroke="#d4deea" stroke-width="1"/>
<line x1="516.5" x2="516.5" y1="789" y2="828" stroke="#d4deea" stroke-width="1"/>
<line x1="700.5" x2="700.5" y1="789" y2="828" stroke="#d4deea" stroke-width="1"/>
<rect x="295" y="789" width="439" height="39" fill="rgb(102,160,230)" fill-opacity="0.25"/>
<path d="M294.50 807.28 C294.50 807.28 296.38 793.93 297.63 793.93 C298.77 793.93 299.33 798.13 300.47 798.13 C301.72 798.13 302.35 797.42 303.60 797.42 C304.81 797.42 305.42 806.90 306.63 810.04 C307.89 813.29 308.51 812.39 309.77 813.41 C310.98 814.40 311.59 815.06 312.80 815.06 C314.05 815.06 314.68 815.06 315.93 814.77 C317.19 814.49 317.81 806.94 319.07 806.63 C320.28 806.33 320.89 806.47 322.10 806.33 C323.35 806.20 323.98 806.22 325.24 805.96 C326.45 805.70 327.06 805.03 328.27 805.03 C329.52 805.03 330.15 813.24 331.40 813.24 C332.66 813.24 333.28 795.09 334.54 795.09 C335.67 795.09 336.24 798.94 337.37 800.76 C338.62 802.77 339.25 800.91 340.50 804.66 C341.72 808.29 342.32 819.19 343.53 819.19 C344.79 819.19 345.42 814.75 346.67 812.83 C347.88 810.98 348.49 809.75 349.70 809.75 C350.96 809.75 351.58 811.44 352.84 811.44 C354.09 811.44 354.72 803.25 355.97 803.25 C357.18 803.25 357.79 808.90 359.00 811.64 C360.26 814.47 360.88 817.18 362.14 817.18 C363.35 817.18 363.96 807.05 365.17 805.87 C366.42 804.70 367.05 805.87 368.31 804.70 C369.56 803.52 370.19 799.06 371.44 796.33 C372.57 793.86 373.14 791.69 374.27 791.69 C375.52 791.69 376.15 804.06 377.40 804.06 C378.62 804.06 379.22 798.40 380.44 798.40 C381.69 798.40 382.32 816.00 383.57 816.00 C384.78 816.00 385.39 815.78 386.60 815.78 C387.86 815.78 388.49 817.05 389.74 817.05 C390.99 817.05 391.62 809.70 392.87 808.86 C394.09 808.02 394.69 808.86 395.91 808.02 C397.16 807.19 397.79 803.34 399.04 803.08 C400.25 802.82 400.86 802.90 402.07 802.82 C403.33 802.74 403.95 802.82 405.21 802.69 C406.46 802.55 407.09 791.33 408.34 791.33 C409.51 791.33 410.10 800.75 411.27 804.76 C412.53 809.04 413.15 811.03 414.41 812.08 C415.62 813.13 416.23 813.13 417.44 813.13 C418.69 813.13 419.32 806.94 420.58 806.94 C421.79 806.94 422.40 815.87 423.61 815.87 C424.86 815.87 425.49 808.15 426.74 808.15 C428.00 808.15 428.62 811.23 429.88 811.23 C431.09 811.23 431.70 807.72 432.91 806.23 C434.16 804.68 434.79 803.62 436.04 803.62 C437.26 803.62 437.86 804.34 439.08 805.08 C440.33 805.85 440.96 807.39 442.21 807.39 C443.47 807.39 444.09 806.68 445.35 804.48 C446.48 802.49 447.04 798.98 448.18 796.92 C449.43 794.64 450.06 793.62 451.31 793.62 C452.52 793.62 453.13 796.55 454.34 800.11 C455.60 803.79 456.22 808.94 457.48 811.71 C458.69 814.48 459.30 814.48 460.51 814.48 C461.76 814.48 462.39 809.41 463.65 808.76 C464.90 808.10 465.53 808.76 466.78 808.10 C467.99 807.44 468.60 803.79 469.81 803.79 C471.07 803.79 471.69 805.91 472.95 806.85 C474.16 807.76 474.77 807.83 475.98 808.42 C477.23 809.03 477.86 808.42 479.11 809.84 C480.37 811.26 480.99 819.81 482.25 819.81 C483.38 819.81 483.95 806.26 485.08 806.26 C486.33 806.26 486.96 807.94 488.21 807.94 C489.43 807.94 490.03 805.01 491.25 805.01 C492.50 805.01 493.13 807.36 494.38 807.36 C495.59 807.36 496.20 803.04 497.41 803.04 C498.67 803.04 499.29 809.59 500.55 809.59 C501.80 809.59 502.43 809.27 503.68 808.99 C504.90 808.72 505.50 808.59 506.72 808.21 C507.97 807.82 508.60 807.09 509.85 807.09 C511.06 807.09 511.67 808.53 512.88 808.53 C514.14 808.53 514.76 804.44 516.02 804.44 C517.27 804.44 517.90 807.54 519.15 808.87 C520.28 810.07 520.85 810.74 521.98 810.74 C523.24 810.74 523.86 806.74 525.12 806.74 C526.33 806.74 526.94 809.03 528.15 809.03 C529.40 809.03 530.03 808.06 531.28 806.34 C532.50 804.68 533.10 800.58 534.32 800.58 C535.57 800.58 536.20 809.82 537.45 809.82 C538.70 809.82 539.33 806.46 540.58 806.46 C541.80 806.46 542.40 806.46 543.62 806.95 C544.87 807.44 545.50 809.88 546.75 809.88 C547.97 809.88 548.57 804.91 549.78 804.91 C551.04 804.91 551.67 805.38 552.92 805.90 C554.17 806.42 554.80 806.85 556.05 807.50 C557.23 808.11 557.81 809.07 558.99 809.07 C560.24 809.07 560.87 807.82 562.12 807.53 C563.33 807.24 563.94 807.53 565.15 807.24 C566.41 806.95 567.03 802.41 568.29 802.41 C569.50 802.41 570.11 802.49 571.32 803.37 C572.57 804.29 573.20 806.92 574.45 806.92 C575.71 806.92 576.33 806.86 577.59 806.86 C578.80 806.86 579.41 809.75 580.62 809.75 C581.88 809.75 582.50 808.13 583.76 808.13 C584.97 808.13 585.58 808.77 586.79 808.77 C588.04 808.77 588.67 808.05 589.92 808.05 C591.18 808.05 591.80 812.84 593.06 812.84 C594.19 812.84 594.76 808.98 595.89 808.98 C597.14 808.98 597.77 809.21 599.02 809.21 C600.24 809.21 600.84 809.21 602.06 808.27 C603.31 807.33 603.94 801.52 605.19 801.52 C606.40 801.52 607.01 802.65 608.22 802.65 C609.48 802.65 610.10 801.79 611.36 801.79 C612.61 801.79 613.24 802.37 614.49 803.07 C615.70 803.74 616.31 805.20 617.52 805.20 C618.78 805.20 619.40 803.45 620.66 803.45 C621.87 803.45 622.48 806.06 623.69 806.92 C624.94 807.77 625.57 806.92 626.83 807.77 C628.08 808.62 628.71 814.07 629.96 814.96 C631.09 815.86 631.66 815.42 632.79 815.86 C634.04 816.34 634.67 817.28 635.92 817.28 C637.14 817.28 637.74 814.62 638.96 811.74 C640.21 808.77 640.84 805.25 642.09 802.65 C643.31 800.13 643.91 800.67 645.12 798.94 C646.38 797.14 647.01 793.83 648.26 793.83 C649.51 793.83 650.14 809.40 651.39 809.40 C652.61 809.40 653.21 807.37 654.43 807.37 C655.68 807.37 656.31 808.35 657.56 810.29 C658.77 812.17 659.38 816.91 660.59 816.91 C661.85 816.91 662.47 809.92 663.73 809.92 C664.98 809.92 665.61 815.25 666.86 815.25 C667.99 815.25 668.56 810.58 669.69 810.58 C670.95 810.58 671.57 811.23 672.83 811.23 C674.04 811.23 674.65 804.04 675.86 804.04 C677.11 804.04 677.74 807.53 678.99 807.53 C680.21 807.53 680.81 802.63 682.03 800.78 C683.28 798.88 683.91 798.15 685.16 798.15 C686.42 798.15 687.04 807.43 688.30 807.43 C689.51 807.43 690.12 807.31 691.33 806.78 C692.58 806.24 693.21 804.76 694.46 804.76 C695.68 804.76 696.28 807.02 697.50 807.02 C698.75 807.02 699.38 806.35 700.63 806.35 C701.88 806.35 702.51 810.04 703.76 813.83 C704.94 817.37 705.52 824.67 706.70 824.67 C707.95 824.67 708.58 807.73 709.83 805.92 C711.04 804.11 711.65 804.11 712.86 804.11 C714.12 804.11 714.74 804.99 716.00 804.99 C717.21 804.99 717.82 797.74 719.03 797.74 C720.28 797.74 720.91 800.21 722.17 802.67 C723.42 805.14 724.05 810.06 725.30 810.06 C726.51 810.06 727.12 804.15 728.33 804.15 C729.59 804.15 730.21 808.09 731.47 809.94 C732.68 811.72 734.50 813.23 734.50 813.23" fill="none" stroke="#4a7ebb" stroke-width="1.2"/>
<text x="335.5" y="823.5" font-size="10" fill="#888">1950</text>
<text x="520.5" y="823.5" font-size="10" fill="#888">1955</text>
<text x="706.1" y="823.5" font-size="10" fill="#888">1960</text>
<line x1="280.5" x2="280.5" y1="789" y2="828" stroke="#b4cbe6" stroke-width="1"/>
<path d="M281 788.5 H749 M294.5 788.5 V828 M734.5 788.5 V828" fill="none" stroke="#b2b1b6" stroke-width="1"/>
<rect x="280.5" y="828.5" width="468" height="14" fill="#bfc8d1" stroke="#bfc8d1"/>
<rect x="294.5" y="828.5" width="440" height="14" fill="#bfc8d1" stroke="#b7bec6"/>
<rect x="280.5" y="828.5" width="14" height="14" fill="#ebe7e8" stroke="#bbb"/>
<rect x="734.5" y="828.5" width="14" height="14" fill="#ebe7e8" stroke="#bbb"/>
<path d="M289 832.5 v6 l-3 -3 Z" fill="#666"/>
<path d="M740.8 833 v6 l3 -3 Z" fill="#666"/>
<path d="M511.5 832.3 v5.6 M514.5 832.3 v5.6 M517.5 832.3 v5.6" stroke="#666" stroke-width="1"/>
<rect x="290.5" y="800.5" width="8" height="15" fill="#ebe7e8" stroke="#b2b1b6"/>
<path d="M293.5 804 v8 M295.5 804 v8" stroke="#a0a0a6" stroke-width="1"/>
<rect x="730.5" y="800.5" width="8" height="15" fill="#ebe7e8" stroke="#b2b1b6"/>
<path d="M733.5 804 v8 M735.5 804 v8" stroke="#a0a0a6" stroke-width="1"/>
<text x="749" y="852" text-anchor="end" font-size="9" fill="#f6f6f6">Orange – Data Mining Fruitful &amp; Fun, Highcharts.com</text>
<rect x="314.5" y="438.5" width="229" height="100" rx="2.5" fill="none" stroke="#000" stroke-opacity="0.05" stroke-width="5"/>
<rect x="314.5" y="438.5" width="229" height="100" rx="2.5" fill="none" stroke="#000" stroke-opacity="0.10" stroke-width="3"/>
<rect x="314.5" y="438.5" width="229" height="100" rx="2.5" fill="none" stroke="#000" stroke-opacity="0.15" stroke-width="1"/>
<rect x="313.5" y="437.5" width="229" height="100" rx="2.5" fill="#fbfbfb" fill-opacity="0.85" stroke="#c850d0" stroke-width="1"/>
<text transform="translate(321 456) scale(1 0.93)" font-size="10" fill="#333" letter-spacing="0.3" text-rendering="geometricPrecision">June 1949</text>
<text transform="translate(321 469.5) scale(1 0.93)" font-size="12" fill="#333" letter-spacing="0.09"><tspan fill="#c850d0">●</tspan> Air passengers: <tspan font-weight="bold">135.00</tspan></text>
<text transform="translate(321 483.5) scale(1 0.93)" font-size="12" fill="#333" letter-spacing="0.09"><tspan fill="#1d6e62">●</tspan> Air passengers (season. adj.): <tspan font-weight="bold">121.32</tspan></text>
<text transform="translate(321 497.5) scale(1 0.93)" font-size="12" fill="#333" letter-spacing="0.09"><tspan fill="#1e831e">●</tspan> Air passengers (residual): <tspan font-weight="bold">0.96</tspan></text>
<text transform="translate(321 511.5) scale(1 0.93)" font-size="12" fill="#333" letter-spacing="0.09"><tspan fill="#d0665a">●</tspan> Air passengers (trend): <tspan font-weight="bold">126.17</tspan></text>
<text transform="translate(321 525.5) scale(1 0.93)" font-size="12" fill="#333" letter-spacing="0.09"><tspan fill="#76d3d3">●</tspan> Air passengers (seasonal): <tspan font-weight="bold">1.11</tspan></text>
</svg>
</div></body></html>
